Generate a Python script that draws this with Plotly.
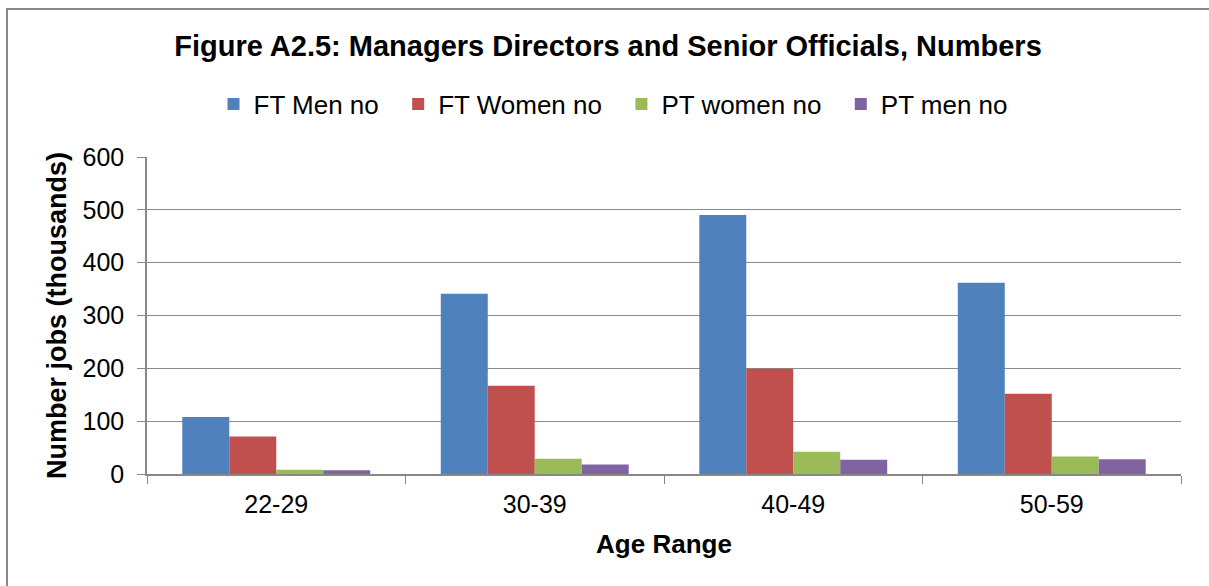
import plotly.graph_objects as go

categories = ["22-29", "30-39", "40-49", "50-59"]
ft_men = [108, 341, 490, 362]
ft_women = [71, 167, 199, 152]
pt_women = [8, 29, 42, 33]
pt_men = [7, 18, 27, 28]

series = [
    ("FT Men no", ft_men, "#4F81BD"),
    ("FT Women no", ft_women, "#C0504D"),
    ("PT women no", pt_women, "#9BBB59"),
    ("PT men no", pt_men, "#8064A2"),
]

W, H = 1209, 586
L, R, T, B = 147, 28, 157, 112
PW, PH = W - L - R, H - T - B

fig = go.Figure()
for i, (name, vals, col) in enumerate(series):
    pad = "\u00a0\u00a0" if i < len(series) - 1 else ""
    fig.add_trace(go.Bar(x=categories, y=vals, name=name + pad,
                         marker=dict(color=col, line=dict(width=0))))

FONT = "Liberation Sans, Arial, sans-serif"
fig.update_layout(
    width=W, height=H,
    margin=dict(l=L, r=R, t=T, b=B, autoexpand=False),
    paper_bgcolor="white", plot_bgcolor="white",
    font=dict(family=FONT, size=25, color="black"),
    barmode="group", bargap=0.273, bargroupgap=0,
    title=dict(text="<b>Figure A2.5: Managers Directors and Senior Officials, Numbers</b>",
               font=dict(size=29, color="black"),
               x=608 / W, xref="container", xanchor="center",
               y=1 - 46 / H, yref="container", yanchor="middle"),
    legend=dict(orientation="h", x=(613 - L) / PW, xanchor="center",
                y=(H - B - 104) / PH, yanchor="middle",
                font=dict(size=26), bgcolor="rgba(0,0,0,0)"),
    xaxis=dict(
        showline=True, linecolor="#888888", linewidth=1.5,
        ticks="outside", tickson="boundaries", ticklen=8, tickcolor="#888888",
        tickfont=dict(size=25), ticklabelstandoff=7,
        title=dict(text="<b>Age Range</b>", font=dict(size=26), standoff=18),
        showgrid=False,
    ),
    yaxis=dict(
        range=[0, 600], dtick=100,
        showline=True, linecolor="#888888", linewidth=1.5,
        ticks="outside", ticklen=8, tickcolor="#888888",
        tickfont=dict(size=25), ticklabelstandoff=8,
        showgrid=True, gridcolor="#8c8c8c", gridwidth=1.2,
        zeroline=False,
        title=dict(text="<b>Number jobs (thousands)</b>", font=dict(size=27), standoff=8),
    ),
    shapes=[dict(type="rect", xref="paper", yref="paper",
                 x0=(7 - L) / PW, x1=(W + 20 - L) / PW,
                 y0=(H - B - (H + 20)) / PH, y1=(H - B - 9) / PH,
                 line=dict(color="#888888", width=2), fillcolor="rgba(0,0,0,0)",
                 layer="below")],
)

fig.write_html("out.html", config={"displayModeBar": False},
               post_script="document.body.style.margin='0';document.body.style.overflow='hidden';")
